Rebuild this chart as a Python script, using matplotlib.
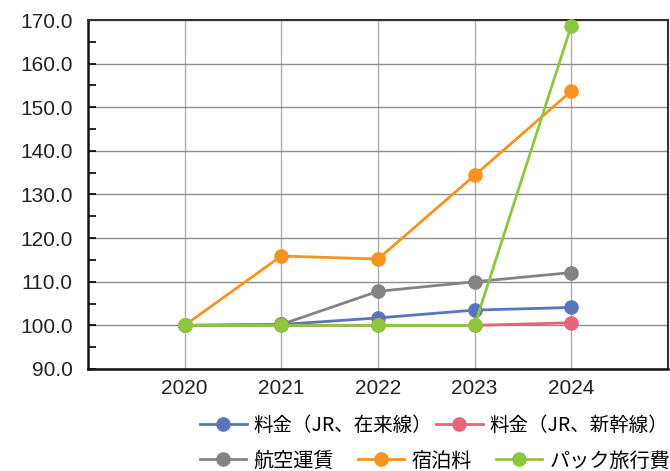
import matplotlib
matplotlib.use("Agg")
import matplotlib.pyplot as plt
from matplotlib.ticker import MultipleLocator, FormatStrFormatter

years = [2020, 2021, 2022, 2023, 2024]
labels = ["料金（JR、在来線）", "料金（JR、新幹線）", "航空運賃", "宿泊料", "パック旅行費"]
zairai = [100.0, 100.2, 101.7, 103.5, 104.1]
shinkansen = [100.0, 100.0, 100.0, 100.0, 100.6]
koku = [100.0, 100.2, 107.8, 110.0, 112.1]
shukuhaku = [100.0, 115.9, 115.2, 134.4, 153.7]
pack = [100.0, 100.0, 100.0, 100.0, 168.7]
colors = ["#5b74bc", "#e7647b", "#838385", "#f7931e", "#8dc63f"]

plt.rcParams['font.family'] = ['Liberation Sans', 'Noto Sans CJK JP', 'DejaVu Sans']

fig = plt.figure(figsize=(6.7, 4.71), dpi=100)
ax = fig.add_axes([0.1313, 0.2166, 0.8657, 0.7409])

lines = []
for vals, col in zip([zairai, shinkansen, koku, shukuhaku, pack], colors):
    ln, = ax.plot(years, vals, color=col, lw=2.0, marker='o', markersize=9.5,
                  clip_on=False, zorder=3)
    lines.append(ln)

ax.set_xlim(2019, 2025)
ax.set_ylim(90, 170)
ax.set_xticks(years)
ax.yaxis.set_major_locator(MultipleLocator(10))
ax.yaxis.set_minor_locator(MultipleLocator(5))
ax.yaxis.set_major_formatter(FormatStrFormatter('%.1f'))
ax.grid(True, axis='y', which='major', color='#8e8e8e', lw=1.0)
ax.grid(True, axis='x', which='major', color='#b0b0b0', lw=1.0)
ax.set_axisbelow(True)

ax.tick_params(axis='x', length=0, labelsize=15, pad=7, labelcolor='#222222')
ax.tick_params(axis='y', which='major', direction='in', length=6, width=1.2,
               labelsize=15, pad=11, labelcolor='#222222')
ax.tick_params(axis='y', which='minor', direction='in', length=6, width=1.2)

for side in ['left', 'bottom']:
    ax.spines[side].set_linewidth(1.8)
    ax.spines[side].set_color('#111111')
for side in ['top', 'right']:
    ax.spines[side].set_linewidth(1.5)
    ax.spines[side].set_color('#333333')

# two legend rows: 2 items on top, 3 below
fam = ['Noto Sans CJK JP', 'DejaVu Sans']
leg1 = fig.legend(lines[:2], labels[:2], loc='center left',
                  bbox_to_anchor=(0.2985, 0.0977), ncol=2, frameon=False,
                  prop={'family': fam, 'size': 14}, handlelength=2.4,
                  handletextpad=0.35, columnspacing=0.2,
                  borderaxespad=0, borderpad=0)
leg2 = fig.legend(lines[2:], labels[2:], loc='center left',
                  bbox_to_anchor=(0.2985, 0.0212), ncol=3, frameon=False,
                  prop={'family': fam, 'size': 14.5}, handlelength=2.3,
                  handletextpad=0.35, columnspacing=1.2,
                  borderaxespad=0, borderpad=0)

fig.savefig("out.png", dpi=100)
